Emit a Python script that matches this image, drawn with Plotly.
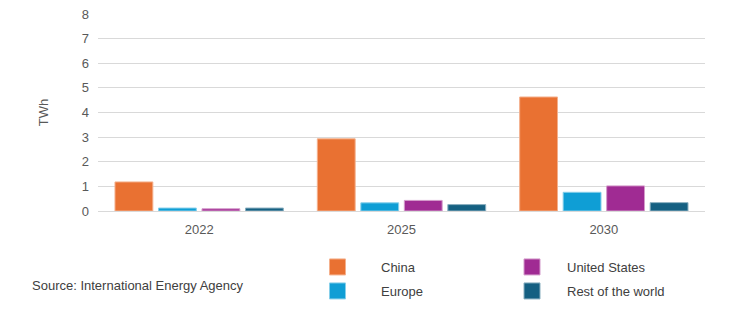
import plotly.graph_objects as go

years = ["2022", "2025", "2030"]
china = [1.18, 2.93, 4.63]
europe = [0.12, 0.33, 0.76]
us = [0.09, 0.43, 1.02]
row = [0.12, 0.26, 0.34]

series = [
    ("China", china, "#E97132", "#F4B08C", "legend"),
    ("Europe", europe, "#0F9ED5", "#86CFEA", "legend2"),
    ("United States", us, "#A02B93", "#D49BCB", "legend3"),
    ("Rest of the world", row, "#156082", "#8AAFC0", "legend4"),
]

fig = go.Figure()
for name, vals, col, edge, lg in series:
    fig.add_trace(go.Bar(x=years, y=vals, name=name, marker_color=col,
                         marker_line_color=edge, marker_line_width=1,
                         showlegend=False))
for name, vals, col, edge, lg in series:
    fig.add_trace(go.Scatter(x=[None], y=[None], name=name, mode="markers",
                             marker=dict(symbol="square", size=16, color=col,
                                         line=dict(color=edge, width=1)),
                             legend=lg))

font_axis = dict(family="Liberation Sans, Arial, sans-serif", size=13, color="#595959")
font_leg = dict(family="Liberation Sans Narrow, Liberation Sans, sans-serif", size=13, color="#404040")

L, R, T, B = 98, 47, 14, 114
pw = 752 - L - R
ph = 325 - T - B

def px(xp):
    return (xp - L) / pw

def py(yp):
    return (325 - B - yp) / ph

def leg(xp, yp, iw):
    return dict(orientation="h", xref="paper", yref="paper", x=px(xp), y=py(yp),
                xanchor="left", yanchor="middle", font=font_leg,
                itemwidth=iw, bgcolor="rgba(0,0,0,0)")

fig.update_layout(
    width=752, height=325,
    margin=dict(l=L, r=R, t=T, b=B, autoexpand=False),
    paper_bgcolor="white", plot_bgcolor="white",
    barmode="group", bargap=0.14, bargroupgap=0.13,
    font=font_axis,
    xaxis=dict(showgrid=False, showline=True, linecolor="#D9D9D9", linewidth=1,
               ticks="", tickfont=font_axis, ticklabelstandoff=6),
    yaxis=dict(range=[0, 8], dtick=1, showgrid=True, gridcolor="#D9D9D9", gridwidth=1,
               zeroline=False, ticks="", tickfont=font_axis, ticklabelstandoff=8,
               title=dict(text="TWh", font=font_axis, standoff=30)),
    legend=leg(294, 267, 77),
    legend2=leg(294, 291, 77),
    legend3=leg(497, 267, 60),
    legend4=leg(497, 291, 60),
    annotations=[dict(text="Source: International Energy Agency", x=px(30), y=py(285),
                      xref="paper", yref="paper", showarrow=False,
                      xanchor="left", yanchor="middle", font=font_leg)],
)
fig.write_html("out.html")
